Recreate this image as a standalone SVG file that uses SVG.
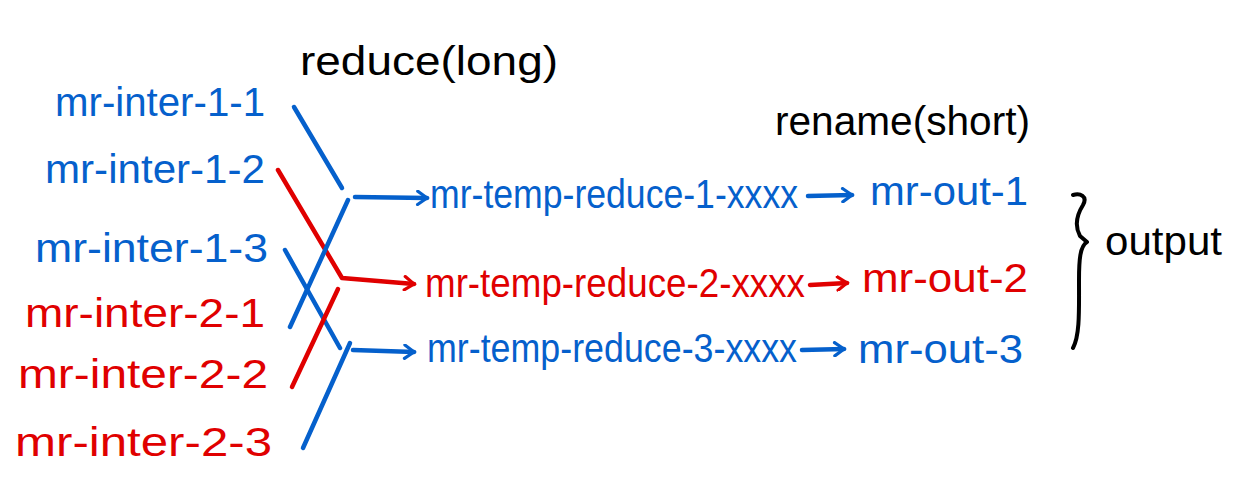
<svg xmlns="http://www.w3.org/2000/svg" width="1250" height="478" viewBox="0 0 1250 478">
<style>
text{font-family:"Liberation Sans Narrow","Liberation Sans",Arial,sans-serif;font-size:40px}
.b{fill:#0560cc}
.r{fill:#e00000}
.k{fill:#000}
.lb{stroke:#0560cc;stroke-width:4.5;fill:none;stroke-linecap:round;stroke-linejoin:round}
.lr{stroke:#e00000;stroke-width:4.5;fill:none;stroke-linecap:round;stroke-linejoin:round}
.lk{stroke:#000;stroke-width:4;fill:none;stroke-linecap:round;stroke-linejoin:round}
</style>
<defs>
<marker id="ab" viewBox="0 0 12 12" refX="10" refY="6" markerWidth="16" markerHeight="16" markerUnits="userSpaceOnUse" orient="auto"><path d="M3,1 L10,6 L3,11" fill="none" stroke="#0560cc" stroke-width="2.4" stroke-linecap="round"/></marker>
<marker id="ar" viewBox="0 0 12 12" refX="10" refY="6" markerWidth="16" markerHeight="16" markerUnits="userSpaceOnUse" orient="auto"><path d="M3,1 L10,6 L3,11" fill="none" stroke="#e00000" stroke-width="2.4" stroke-linecap="round"/></marker>
</defs>
<rect width="1250" height="478" fill="#fff"/>

<g id="title-reduce"><text class="k" x="300" y="75" textLength="258" lengthAdjust="spacingAndGlyphs">reduce(long)</text></g>
<g id="title-rename"><text class="k" x="775" y="135" textLength="255" lengthAdjust="spacingAndGlyphs">rename(short)</text></g>

<g id="in-1-1"><text class="b" x="55" y="116" textLength="210" lengthAdjust="spacingAndGlyphs">mr-inter-1-1</text></g>
<g id="in-1-2"><text class="b" x="45" y="183" textLength="220" lengthAdjust="spacingAndGlyphs">mr-inter-1-2</text></g>
<g id="in-1-3"><text class="b" x="35" y="262" textLength="233" lengthAdjust="spacingAndGlyphs">mr-inter-1-3</text></g>
<g id="in-2-1"><text class="r" x="25" y="327" textLength="240" lengthAdjust="spacingAndGlyphs">mr-inter-2-1</text></g>
<g id="in-2-2"><text class="r" x="18" y="388" textLength="250" lengthAdjust="spacingAndGlyphs">mr-inter-2-2</text></g>
<g id="in-2-3"><text class="r" x="15" y="456" textLength="257" lengthAdjust="spacingAndGlyphs">mr-inter-2-3</text></g>

<g id="temp-1"><text class="b" x="430" y="208" textLength="368" lengthAdjust="spacingAndGlyphs">mr-temp-reduce-1-xxxx</text></g>
<g id="temp-2"><text class="r" x="425" y="297" textLength="380" lengthAdjust="spacingAndGlyphs">mr-temp-reduce-2-xxxx</text></g>
<g id="temp-3"><text class="b" x="427" y="362" textLength="370" lengthAdjust="spacingAndGlyphs">mr-temp-reduce-3-xxxx</text></g>

<g id="out-1"><text class="b" x="870" y="205" textLength="158" lengthAdjust="spacingAndGlyphs">mr-out-1</text></g>
<g id="out-2"><text class="r" x="862" y="292" textLength="166" lengthAdjust="spacingAndGlyphs">mr-out-2</text></g>
<g id="out-3"><text class="b" x="858" y="363" textLength="165" lengthAdjust="spacingAndGlyphs">mr-out-3</text></g>

<g id="output-brace">
<path class="lk" d="M1073,195 C1080,193 1088,196 1083,205 C1078,213 1074,225 1080,236 L1087,242 C1080,246 1079,260 1079,280 C1079,310 1080,335 1073,348"/>
<text class="k" x="1105" y="255" textLength="117" lengthAdjust="spacingAndGlyphs">output</text>
</g>

<g id="connectors">
<path class="lb" d="M294,107 L342,188"/>
<path class="lr" d="M278,170 L342,278 L414,284" marker-end="url(#ar)"/>
<path class="lb" d="M290,327 L348,200"/>
<path class="lb" d="M355,197 L427,198" marker-end="url(#ab)"/>
<path class="lb" d="M285,250 L340,348"/>
<path class="lr" d="M338,289 L292,387"/>
<path class="lb" d="M303,448 L350,343"/>
<path class="lb" d="M353,350 L414,352" marker-end="url(#ab)"/>
<path class="lb" d="M808,196 L852,195" marker-end="url(#ab)"/>
<path class="lr" d="M810,285 L847,283" marker-end="url(#ar)"/>
<path class="lb" d="M802,350 L844,349" marker-end="url(#ab)"/>
</g>
</svg>
